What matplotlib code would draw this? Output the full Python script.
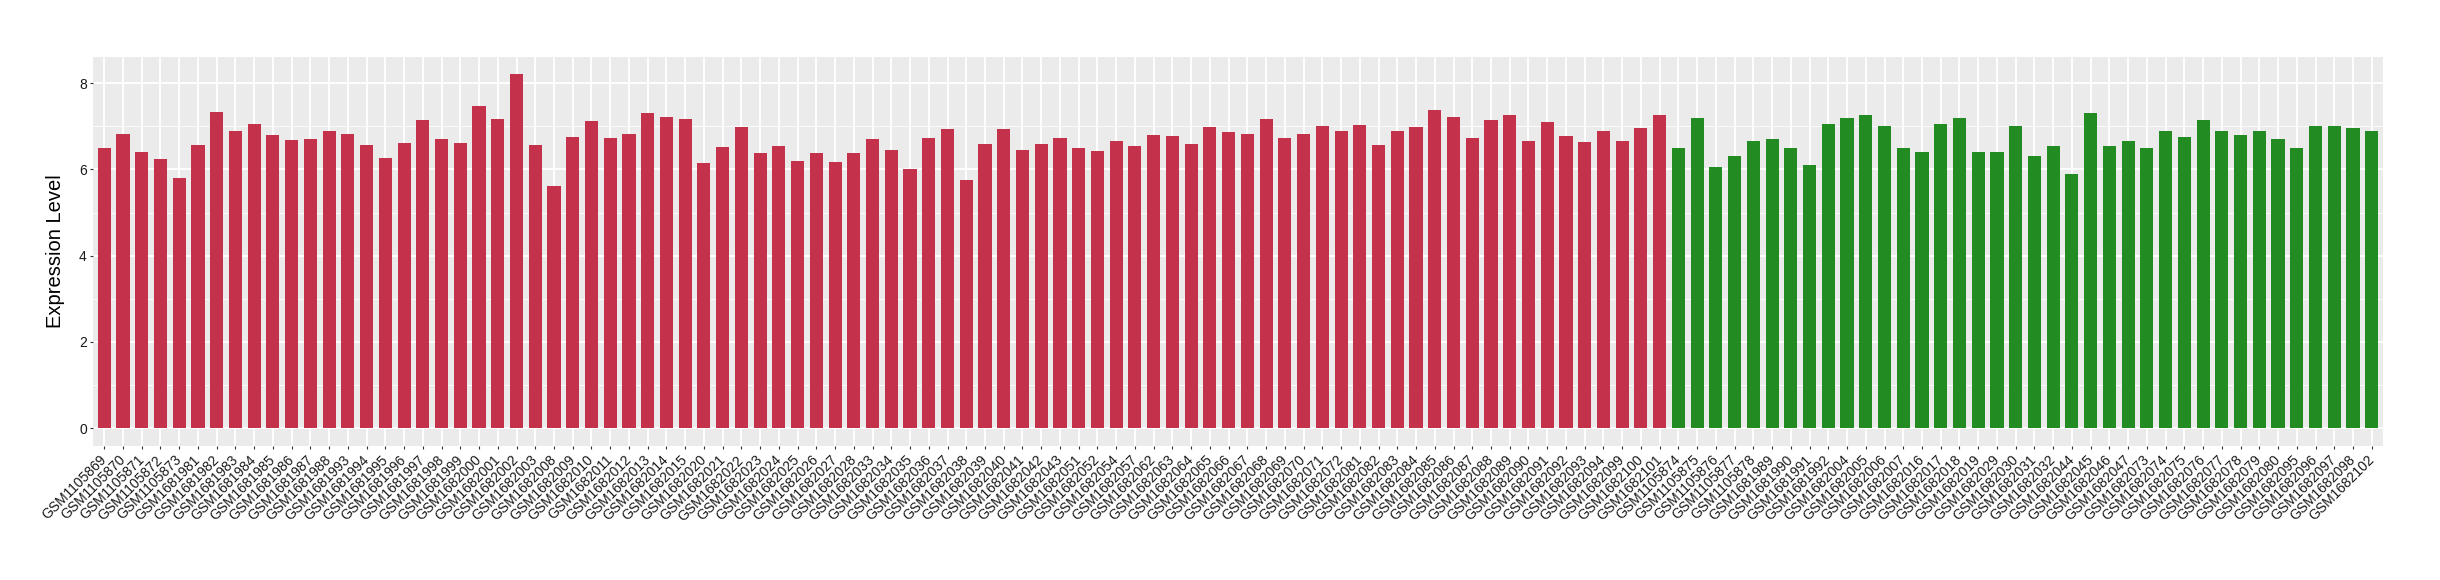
import matplotlib
matplotlib.use("Agg")
import matplotlib.pyplot as plt
from matplotlib.ticker import MultipleLocator

plt.rcParams['font.family'] = ['Liberation Sans', 'DejaVu Sans']

# -----------------------------
# Data
# -----------------------------
red_samples = [
    "GSM1105869", "GSM1105870", "GSM1105871", "GSM1105872", "GSM1105873",
    "GSM1681981", "GSM1681982", "GSM1681983", "GSM1681984", "GSM1681985",
    "GSM1681986", "GSM1681987", "GSM1681988", "GSM1681993", "GSM1681994",
    "GSM1681995", "GSM1681996", "GSM1681997", "GSM1681998", "GSM1681999",
    "GSM1682000", "GSM1682001", "GSM1682002", "GSM1682003", "GSM1682008",
    "GSM1682009", "GSM1682010", "GSM1682011", "GSM1682012", "GSM1682013",
    "GSM1682014", "GSM1682015", "GSM1682020", "GSM1682021", "GSM1682022",
    "GSM1682023", "GSM1682024", "GSM1682025", "GSM1682026", "GSM1682027",
    "GSM1682028", "GSM1682033", "GSM1682034", "GSM1682035", "GSM1682036",
    "GSM1682037", "GSM1682038", "GSM1682039", "GSM1682040", "GSM1682041",
    "GSM1682042", "GSM1682043", "GSM1682051", "GSM1682052", "GSM1682054",
    "GSM1682057", "GSM1682062", "GSM1682063", "GSM1682064", "GSM1682065",
    "GSM1682066", "GSM1682067", "GSM1682068", "GSM1682069", "GSM1682070",
    "GSM1682071", "GSM1682072", "GSM1682081", "GSM1682082", "GSM1682083",
    "GSM1682084", "GSM1682085", "GSM1682086", "GSM1682087", "GSM1682088",
    "GSM1682089", "GSM1682090", "GSM1682091", "GSM1682092", "GSM1682093",
    "GSM1682094", "GSM1682099", "GSM1682100", "GSM1682101",
]
red_values = [
    6.49, 6.83, 6.40, 6.23, 5.79, 6.56, 7.32, 6.88, 7.04, 6.79,
    6.67, 6.70, 6.90, 6.81, 6.56, 6.26, 6.60, 7.14, 6.70, 6.60,
    7.46, 7.16, 8.20, 6.56, 5.61, 6.74, 7.11, 6.72, 6.83, 7.30,
    7.21, 7.16, 6.14, 6.51, 6.97, 6.37, 6.53, 6.19, 6.37, 6.16,
    6.37, 6.70, 6.44, 6.00, 6.72, 6.93, 5.75, 6.58, 6.93, 6.44,
    6.58, 6.72, 6.49, 6.42, 6.65, 6.53, 6.79, 6.77, 6.58, 6.97,
    6.86, 6.81, 7.16, 6.72, 6.81, 7.00, 6.90, 7.02, 6.56, 6.88,
    6.97, 7.37, 7.21, 6.72, 7.14, 7.27, 6.65, 7.09, 6.77, 6.63,
    6.88, 6.65, 6.95, 7.25,
]

green_samples = [
    "GSM1105874", "GSM1105875", "GSM1105876", "GSM1105877", "GSM1105878",
    "GSM1681989", "GSM1681990", "GSM1681991", "GSM1681992", "GSM1682004",
    "GSM1682005", "GSM1682006", "GSM1682007", "GSM1682016", "GSM1682017",
    "GSM1682018", "GSM1682019", "GSM1682029", "GSM1682030", "GSM1682031",
    "GSM1682032", "GSM1682044", "GSM1682045", "GSM1682046", "GSM1682047",
    "GSM1682073", "GSM1682074", "GSM1682075", "GSM1682076", "GSM1682077",
    "GSM1682078", "GSM1682079", "GSM1682080", "GSM1682095", "GSM1682096",
    "GSM1682097", "GSM1682098", "GSM1682102",
]
green_values = [
    6.49, 7.20, 6.05, 6.30, 6.65, 6.70, 6.50, 6.10, 7.05, 7.20,
    7.25, 7.00, 6.50, 6.40, 7.05, 7.20, 6.40, 6.40, 7.00, 6.30,
    6.55, 5.90, 7.30, 6.55, 6.65, 6.50, 6.90, 6.75, 7.15, 6.90,
    6.80, 6.90, 6.70, 6.50, 7.00, 7.00, 6.95, 6.90,
]

samples = red_samples + green_samples
values = red_values + green_values
colors = ["#C3314A"] * len(red_samples) + ["#228B22"] * len(green_samples)

# -----------------------------
# Plot
# -----------------------------
fig = plt.figure(figsize=(24.4, 5.8), dpi=100)
ax = fig.add_axes([93 / 2440, 1 - 446 / 580, (2383 - 93) / 2440, (446 - 56.7) / 580])

x = range(len(samples))
ax.bar(x, values, width=0.7, color=colors, zorder=3)

ax.set_facecolor("#EBEBEB")
ax.set_xlim(-0.6, len(samples) - 0.4)
ax.set_ylim(-0.41, 8.61)

ax.yaxis.set_major_locator(MultipleLocator(2))
ax.yaxis.set_minor_locator(MultipleLocator(1))
ax.grid(which="major", axis="both", color="white", linewidth=1.3, zorder=0)
ax.grid(which="minor", axis="y", color="white", linewidth=0.6, zorder=0)
ax.set_axisbelow(True)

for s in ax.spines.values():
    s.set_visible(False)

ax.set_xticks(list(x))
ax.set_xticklabels(samples, rotation=45, ha="right", va="center",
                   rotation_mode="anchor", fontsize=10, color="#1A1A1A")
ax.tick_params(axis="both", which="major", length=2.5, width=0.8,
               color="#333333", pad=2)
ax.tick_params(axis="x", which="major", pad=6)
ax.tick_params(axis="y", which="minor", length=0)
ax.tick_params(axis="y", labelsize=10, labelcolor="#1A1A1A")

ax.set_ylabel("Expression Level", fontsize=14.5, labelpad=10)

plt.savefig("out.png", dpi=100)
plt.close()
